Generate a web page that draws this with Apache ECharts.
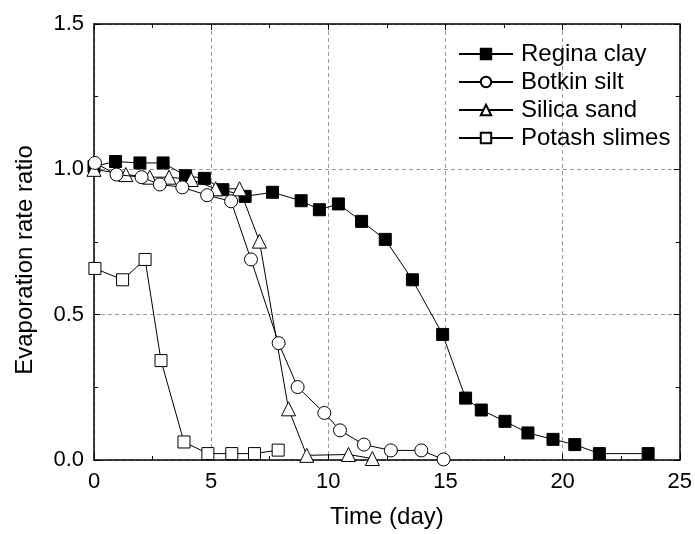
<!DOCTYPE html>
<html>
<head>
<meta charset="utf-8">
<script src="https://cdn.jsdelivr.net/npm/echarts@6/dist/echarts.min.js"></script>
<style>html,body{margin:0;padding:0;background:#fff}#c{width:695px;height:534px}</style>
</head>
<body>
<div id="c"></div>
<script>
const seriesNames = ['Regina clay', 'Botkin silt', 'Silica sand', 'Potash slimes'];
const reginaX = [0, 0.92, 1.96, 2.95, 3.91, 4.71, 5.50, 6.45, 7.62, 8.84, 9.62, 10.43, 11.42, 12.43, 13.59, 14.88, 15.86, 16.53, 17.54, 18.52, 19.59, 20.52, 21.57, 23.65];
const reginaY = [1.01, 1.027, 1.022, 1.022, 0.978, 0.969, 0.930, 0.907, 0.921, 0.892, 0.861, 0.881, 0.821, 0.759, 0.620, 0.432, 0.213, 0.172, 0.133, 0.093, 0.071, 0.053, 0.022, 0.022];
const botkinX = [0.04, 0.96, 2.03, 2.81, 3.77, 4.83, 5.85, 6.70, 7.88, 8.69, 9.83, 10.50, 11.52, 12.67, 13.97, 14.92];
const botkinY = [1.022, 0.982, 0.973, 0.948, 0.938, 0.911, 0.890, 0.690, 0.402, 0.251, 0.162, 0.102, 0.053, 0.033, 0.033, 0.002];
const silicaX = [0, 1.36, 2.38, 3.20, 4.15, 5.19, 6.21, 7.06, 8.30, 9.08, 10.86, 11.88];
const silicaY = [1.0, 0.982, 0.973, 0.973, 0.965, 0.933, 0.933, 0.753, 0.176, 0.016, 0.019, 0.005];
const potashX = [0.04, 1.22, 2.18, 2.86, 3.84, 4.86, 5.88, 6.85, 7.86];
const potashY = [0.659, 0.620, 0.690, 0.342, 0.062, 0.022, 0.022, 0.022, 0.034];
const xTicks = [0, 5, 10, 15, 20, 25];
const yTicks = [0.0, 0.5, 1.0, 1.5];

const pairs = (xs, ys) => xs.map((x, i) => [x, ys[i]]);
const font = 'Liberation Sans, Arial, sans-serif';
const chart = echarts.init(document.getElementById('c'), null, {renderer: 'canvas'});

function mk(name, xs, ys, symbol, size, fill, z) {
  return {
    name: name, type: 'line', data: pairs(xs, ys),
    symbol: symbol, symbolSize: size, showAllSymbol: true,
    lineStyle: {color: '#000', width: 1},
    itemStyle: {color: fill, borderColor: '#000', borderWidth: 1},
    z: z, clip: true, animation: false
  };
}

const baseAxis = {
  axisLine: {show: true, onZero: false, lineStyle: {color: '#000', width: 1.5}},
  axisTick: {show: true, inside: true, length: 6, lineStyle: {color: '#000', width: 1}},
  minorTick: {show: true, splitNumber: 2, length: 4, lineStyle: {color: '#000', width: 1}}
};

chart.setOption({
  animation: false,
  backgroundColor: '#fff',
  grid: {left: 94, right: 13, top: 24, bottom: 72, containLabel: false},
  legend: {
    data: seriesNames, orient: 'vertical', left: 458, top: 42, padding: 0,
    itemWidth: 54, itemHeight: 13, itemGap: 4,
    textStyle: {fontFamily: font, fontSize: 24, color: '#000', padding: [0, 0, 0, 3], lineHeight: 24},
    inactiveColor: '#000'
  },
  xAxis: [
    Object.assign({}, baseAxis, {
      type: 'value', min: 0, max: 25, interval: 5, position: 'bottom',
      name: 'Time (day)', nameLocation: 'middle', nameGap: 45,
      nameTextStyle: {fontFamily: font, fontSize: 24, color: '#000'},
      axisLabel: {show: true, fontFamily: font, fontSize: 22, color: '#000', margin: 11,
        formatter: v => xTicks.includes(v) ? String(v) : ''},
      splitLine: {show: true, lineStyle: {color: '#999', type: [4, 3], width: 1}}
    }),
    Object.assign({}, baseAxis, {
      type: 'value', min: 0, max: 25, interval: 5, position: 'top',
      axisLabel: {show: false}, splitLine: {show: false}
    })
  ],
  yAxis: [
    Object.assign({}, baseAxis, {
      type: 'value', min: 0, max: 1.5, interval: 0.5, position: 'left',
      name: 'Evaporation rate ratio', nameLocation: 'middle', nameGap: 57,
      nameTextStyle: {fontFamily: font, fontSize: 24, color: '#000', padding: [0, 36, 0, 0]},
      axisLabel: {show: true, fontFamily: font, fontSize: 22, color: '#000', margin: 10,
        formatter: v => yTicks.includes(v) ? v.toFixed(1) : ''},
      splitLine: {show: true, lineStyle: {color: '#999', type: [4, 3], width: 1}}
    }),
    Object.assign({}, baseAxis, {
      type: 'value', min: 0, max: 1.5, interval: 0.5, position: 'right',
      axisLabel: {show: false}, splitLine: {show: false}
    })
  ],
  series: [
    mk(seriesNames[0], reginaX, reginaY, 'rect', 12, '#000', 2),
    mk(seriesNames[1], botkinX, botkinY, 'circle', 13, '#fff', 4),
    mk(seriesNames[2], silicaX, silicaY, 'triangle', 14, '#fff', 3),
    mk(seriesNames[3], potashX, potashY, 'rect', 12, '#fff', 2)
  ]
});
</script>
</body>
</html>
